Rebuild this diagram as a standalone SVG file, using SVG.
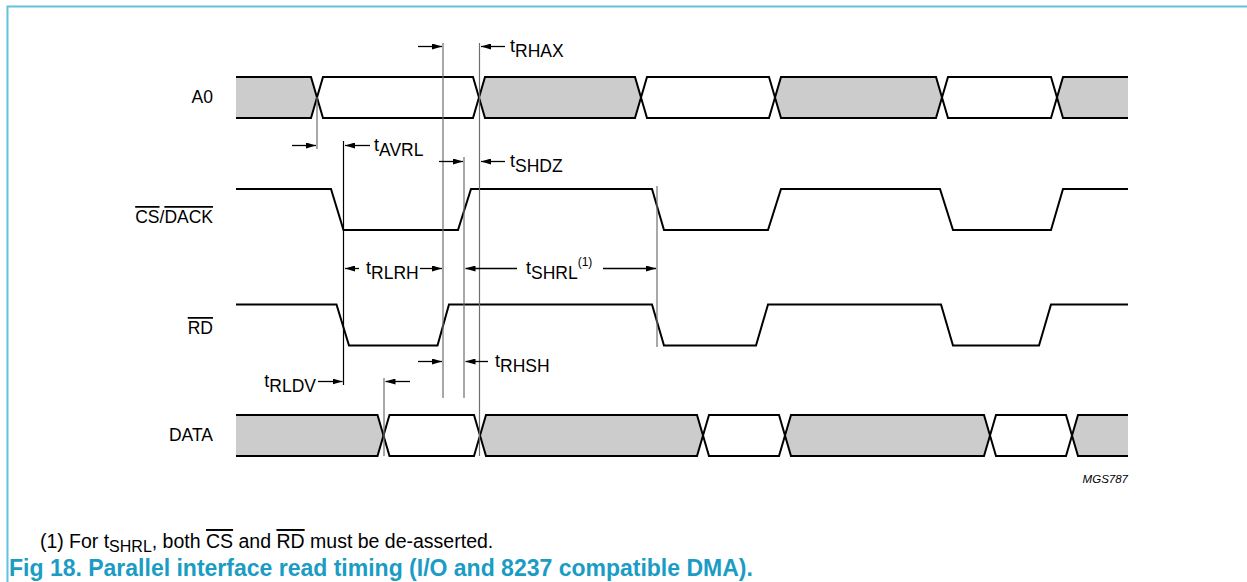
<svg xmlns="http://www.w3.org/2000/svg" width="1247" height="582" viewBox="0 0 1247 582">
<style>
.sig{fill:none;stroke:#000;stroke-width:2;stroke-linejoin:miter}
.busg{fill:#cccccc;stroke:none}
.grid{stroke:#6e6e6e;stroke-width:1.2;fill:none}
.gridk{stroke:#000;stroke-width:1.2;fill:none}
.arr{stroke:#000;stroke-width:1.3;fill:none;marker-end:url(#ah)}
.lbl{font-family:"Liberation Sans",Arial,sans-serif;font-size:17.5px;fill:#000}
.tl{font-family:"Liberation Sans",Arial,sans-serif;font-size:18px;fill:#000}
.sub{font-size:17.5px}
.sup{font-size:12px}
.ol{text-decoration:overline}
.note{font-family:"Liberation Sans",Arial,sans-serif;font-size:19.5px;fill:#000}
.cap{font-family:"Liberation Sans",Arial,sans-serif;font-size:23px;font-weight:bold;fill:#1a9cc4}
.frame{stroke:#5fc2de;stroke-width:2;fill:none}
</style>
<defs>
<marker id="ah" viewBox="0 0 10 6" refX="10" refY="3" markerWidth="10" markerHeight="6" markerUnits="userSpaceOnUse" orient="auto">
<path d="M0,0 L10,3 L0,6 Z" fill="#000"/>
</marker>
</defs>

<g id="frame">
<path class="frame" d="M7.5,582 V6.5 H1247"/>
</g>

<g id="A0">
<text class="lbl" x="213" y="103" text-anchor="end">A0</text>
<path class="busg" d="M236,77 H311 L317,97.5 L311,118 H236 Z"/>
<path class="busg" d="M479,97.5 L485,77 H635 L641,97.5 L635,118 H485 Z"/>
<path class="busg" d="M775,97.5 L781,77 H936 L942,97.5 L936,118 H781 Z"/>
<path class="busg" d="M1057,97.5 L1063,77 H1128 V118 H1063 Z"/>
<path class="sig" d="M236,77 H311 L323,118 H473 L485,77 H635 L647,118 H769 L781,77 H936 L948,118 H1051 L1063,77 H1128"/>
<path class="sig" d="M236,118 H311 L323,77 H473 L485,118 H635 L647,77 H769 L781,118 H936 L948,77 H1051 L1063,118 H1128"/>
</g>

<g id="CS_DACK">
<text class="lbl" x="213" y="223" text-anchor="end"><tspan class="ol">CS</tspan>/<tspan class="ol">DACK</tspan></text>
<path class="sig" d="M236,189 H331 L343.5,230 H458 L471,189 H652 L664,230 H768 L781,189 H940 L953,230 H1051 L1063,189 H1128"/>
</g>

<g id="RD">
<text class="lbl" x="213" y="334" text-anchor="end"><tspan class="ol">RD</tspan></text>
<path class="sig" d="M236,304.5 H336.5 L349,345.5 H437.5 L449,304.5 H652 L664,345.5 H756 L768,304.5 H941 L953,345.5 H1039 L1051,304.5 H1128"/>
</g>

<g id="DATA">
<text class="lbl" x="213" y="441" text-anchor="end">DATA</text>
<path class="busg" d="M236,415 H377.5 L383.5,435.5 L377.5,456 H236 Z"/>
<path class="busg" d="M480,435.5 L486,415 H697 L703,435.5 L697,456 H486 Z"/>
<path class="busg" d="M785,435.5 L791,415 H984 L990,435.5 L984,456 H791 Z"/>
<path class="busg" d="M1072,435.5 L1078,415 H1128 V456 H1078 Z"/>
<path class="sig" d="M236,415 H377.5 L389.5,456 H474 L486,415 H697 L709,456 H779 L791,415 H984 L996,456 H1066 L1078,415 H1128"/>
<path class="sig" d="M236,456 H377.5 L389.5,415 H474 L486,456 H697 L709,415 H779 L791,456 H984 L996,415 H1066 L1078,456 H1128"/>
</g>

<g id="connectors">
<line class="grid" x1="317" y1="97" x2="317" y2="149"/>
<line class="gridk" x1="343.5" y1="141" x2="343.5" y2="385"/>
<line class="grid" x1="443" y1="43" x2="443" y2="398"/>
<line class="grid" x1="464" y1="157" x2="464" y2="398"/>
<line class="grid" x1="479.5" y1="43" x2="479.5" y2="456"/>
<line class="grid" x1="657" y1="186" x2="657" y2="347"/>
<line class="grid" x1="384" y1="378" x2="384" y2="456"/>

<line class="arr" x1="292" y1="145.5" x2="316" y2="145.5"/>
<line class="arr" x1="370" y1="145.5" x2="345" y2="145.5"/>
<line class="arr" x1="418" y1="46.5" x2="442" y2="46.5"/>
<line class="arr" x1="505" y1="46.5" x2="481" y2="46.5"/>
<line class="arr" x1="439" y1="161.5" x2="463" y2="161.5"/>
<line class="arr" x1="505" y1="161.5" x2="481" y2="161.5"/>
<line class="arr" x1="359" y1="268.5" x2="345" y2="268.5"/>
<line class="arr" x1="420" y1="268.5" x2="442" y2="268.5"/>
<line class="arr" x1="517" y1="268.5" x2="465.5" y2="268.5"/>
<line class="arr" x1="603" y1="268.5" x2="656" y2="268.5"/>
<line class="arr" x1="418" y1="361.5" x2="442" y2="361.5"/>
<line class="arr" x1="488" y1="361.5" x2="465.5" y2="361.5"/>
<line class="arr" x1="318" y1="381.5" x2="342.5" y2="381.5"/>
<line class="arr" x1="410" y1="381.5" x2="385.5" y2="381.5"/>
</g>

<g id="timing-labels">
<text class="tl" x="510" y="52">t<tspan class="sub" dy="5">RHAX</tspan></text>
<text class="tl" x="374" y="151">t<tspan class="sub" dy="5">AVRL</tspan></text>
<text class="tl" x="510" y="167">t<tspan class="sub" dy="5">SHDZ</tspan></text>
<text class="tl" x="366" y="274">t<tspan class="sub" dy="5">RLRH</tspan></text>
<text class="tl" x="526" y="274">t<tspan class="sub" dy="5">SHRL</tspan><tspan class="sup" dy="-13">(1)</tspan></text>
<text class="tl" x="495" y="367">t<tspan class="sub" dy="5">RHSH</tspan></text>
<text class="tl" x="316" y="387" text-anchor="end">t<tspan class="sub" dy="5">RLDV</tspan></text>
</g>

<text x="1128" y="483" text-anchor="end" font-family="Liberation Sans, Arial, sans-serif" font-size="11.5" font-style="italic">MGS787</text>

<text class="note" x="40" y="548">(1)<tspan x="69">For t</tspan><tspan font-size="16" dy="4">SHRL</tspan><tspan dy="-4">, both </tspan><tspan class="ol">CS</tspan> and <tspan class="ol">RD</tspan> must be de-asserted.</text>

<text class="cap" x="9" y="576">Fig 18. Parallel interface read timing (I/O and 8237 compatible DMA).</text>
</svg>
